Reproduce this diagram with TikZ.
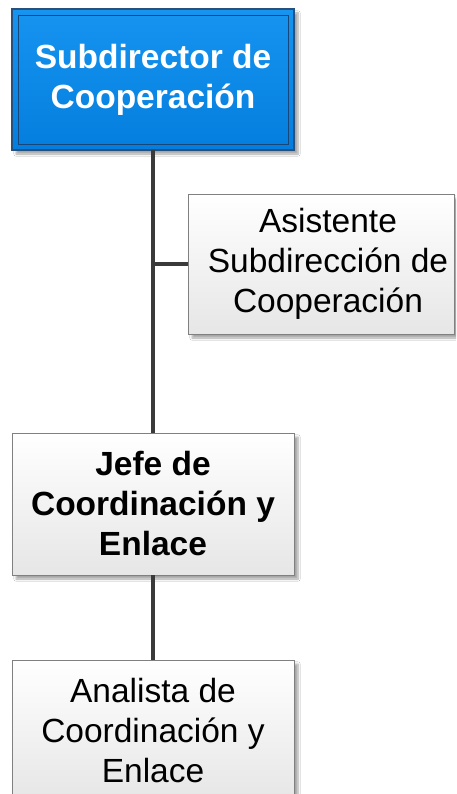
\documentclass[tikz,border=0pt]{standalone}
\usepackage{fontspec}
\setmainfont{Liberation Sans}
\usetikzlibrary{shadows.blur}
\definecolor{bluetop}{RGB}{22,148,240}
\definecolor{bluebot}{RGB}{4,126,222}
\definecolor{blueedge}{RGB}{40,80,125}
\definecolor{blueinner}{RGB}{25,70,120}
\definecolor{grayedge}{RGB}{128,128,128}
\definecolor{graybot}{RGB}{230,230,230}
\definecolor{conn}{RGB}{58,58,58}
\tikzset{
  every node/.style={inner sep=0pt, outer sep=0pt},
  boxshadow/.style={blur shadow={shadow xshift=4pt, shadow yshift=-4pt, shadow blur steps=6, shadow opacity=35}},
  headbox/.style={rectangle, draw=blueedge, line width=1.2pt, top color=bluetop, bottom color=bluebot,
    boxshadow, text=white, font=\fontsize{33.5}{40}\selectfont\bfseries, align=center},
  graybox/.style={rectangle, draw=grayedge, line width=0.8pt, top color=white, bottom color=graybot,
    boxshadow, text=black, font=\fontsize{33.5}{40}\selectfont, align=center},
  graybold/.style={graybox, font=\fontsize{33.5}{40}\selectfont\bfseries},
  plaintext/.style={text=black, font=\fontsize{33.5}{40}\selectfont, align=center},
  innerline/.style={draw=blueinner, line width=0.9pt},
  connline/.style={draw=conn, line width=4pt}
}
\begin{document}
\begin{tikzpicture}[x=1pt,y=-1pt]
\useasboundingbox (0,0) rectangle (456,794);
\clip (0,0) rectangle (456,794);
\fill[white] (0,0) rectangle (456,794);
\node[headbox, minimum width=282pt, minimum height=141pt] (top) at (153,79.5) {Subdirector de\\Cooperación};
\draw[innerline] ([shift={(6,6)}]top.north west) rectangle ([shift={(-6,-6)}]top.south east);
\node[graybox, minimum width=266pt, minimum height=140pt] (asist) at (321,264) {};
\node[plaintext] (asistT) at (328,264) {Asistente\\Subdirección de\\Cooperación};
\node[graybold, minimum width=282pt, minimum height=142pt] (jefe) at (153,504) {Jefe de\\Coordinación y\\Enlace};
\node[graybox, minimum width=282pt, minimum height=141pt] (anal) at (153,730.5) {Analista de\\Coordinación y\\Enlace};
\draw[connline] (top.south) -- (jefe.north);
\draw[connline] (asist.west) -- (asist.west -| top.south);
\draw[connline] (jefe.south) -- (anal.north);
\end{tikzpicture}
\end{document}
